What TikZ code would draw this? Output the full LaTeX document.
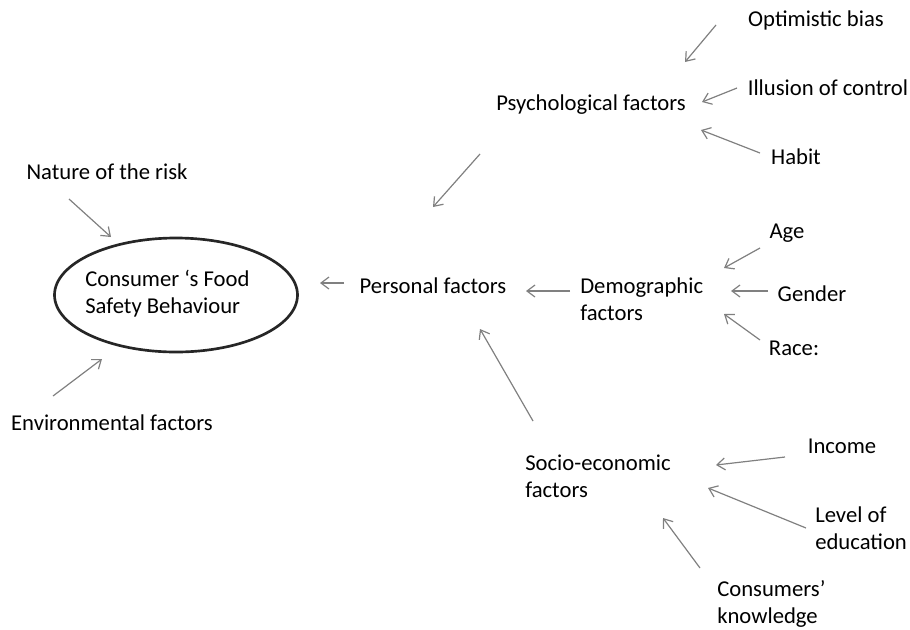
\documentclass[tikz,border=0pt]{standalone}
\usepackage{fontspec}
\setmainfont{Carlito}
\usetikzlibrary{arrows.meta,shapes.geometric}
\begin{document}
\begin{tikzpicture}[x=0.75pt,y=-0.75pt,
  lbl/.style={font=\fontsize{17pt}{20.3pt}\selectfont, align=center, inner sep=0pt},
  lbll/.style={lbl, align=left, anchor=west},
  con/.style={draw=black!50, line width=0.9pt, -{Straight Barb[length=6pt,width=9pt]}}]
\useasboundingbox (0,0) rectangle (910,629);
\node[draw=black!85, line width=2pt, ellipse, minimum width=243*0.75pt, minimum height=114*0.75pt, inner sep=0pt] (ell) at (176,295) {};
\node[lbll] (cons) at (85,294) {Consumer ‘s Food\\Safety Behaviour};
\node[lbl] (nat) at (107,172) {Nature of the risk};
\node[lbl] (env) at (112,423) {Environmental factors};
\node[lbl] (pers) at (433,286) {Personal factors};
\node[lbl] (psy) at (591,105) {Psychological factors};
\node[lbl] (opt) at (816,20) {Optimistic bias};
\node[lbl] (ill) at (828,88) {Illusion of control};
\node[lbl] (hab) at (796,157) {Habit};
\node[lbll] (dem) at (580,299) {Demographic\\factors};
\node[lbl] (age) at (787,233) {Age};
\node[lbl] (gen) at (812,294) {Gender};
\node[lbl] (race) at (794,348) {Race:};
\node[lbll] (soc) at (525,476) {Socio-economic\\factors};
\node[lbl] (inc) at (842,446) {Income};
\node[lbll] (edu) at (815,528) {Level of\\education};
\node[lbll] (know) at (717,604) {Consumers’\\knowledge};
% arrow end points
\coordinate (n1) at (69,199);  \coordinate (n2) at (111,237);
\coordinate (e1) at (53,396);  \coordinate (e2) at (102,359);
\coordinate (p1) at (344,283); \coordinate (p2) at (320,283);
\coordinate (s1) at (480,154); \coordinate (s2) at (433,207);
\coordinate (o1) at (716,25);  \coordinate (o2) at (685,62);
\coordinate (i1) at (737,88);  \coordinate (i2) at (702,102);
\coordinate (h1) at (760,153); \coordinate (h2) at (701,130);
\coordinate (d1) at (570,291); \coordinate (d2) at (526,291);
\coordinate (a1) at (760,248); \coordinate (a2) at (724,268);
\coordinate (g1) at (768,291); \coordinate (g2) at (731,291);
\coordinate (r1) at (760,340); \coordinate (r2) at (724,314);
\coordinate (c1) at (533,421); \coordinate (c2) at (480,329);
\coordinate (m1) at (785,457); \coordinate (m2) at (716,465);
\coordinate (l1) at (806,528); \coordinate (l2) at (708,488);
\coordinate (k1) at (700,568); \coordinate (k2) at (663,518);
\foreach \u/\v in {n1/n2,e1/e2,p1/p2,s1/s2,o1/o2,i1/i2,h1/h2,d1/d2,a1/a2,g1/g2,r1/r2,c1/c2,m1/m2,l1/l2,k1/k2}
  \draw[con] (\u) -- (\v);
\end{tikzpicture}
\end{document}
